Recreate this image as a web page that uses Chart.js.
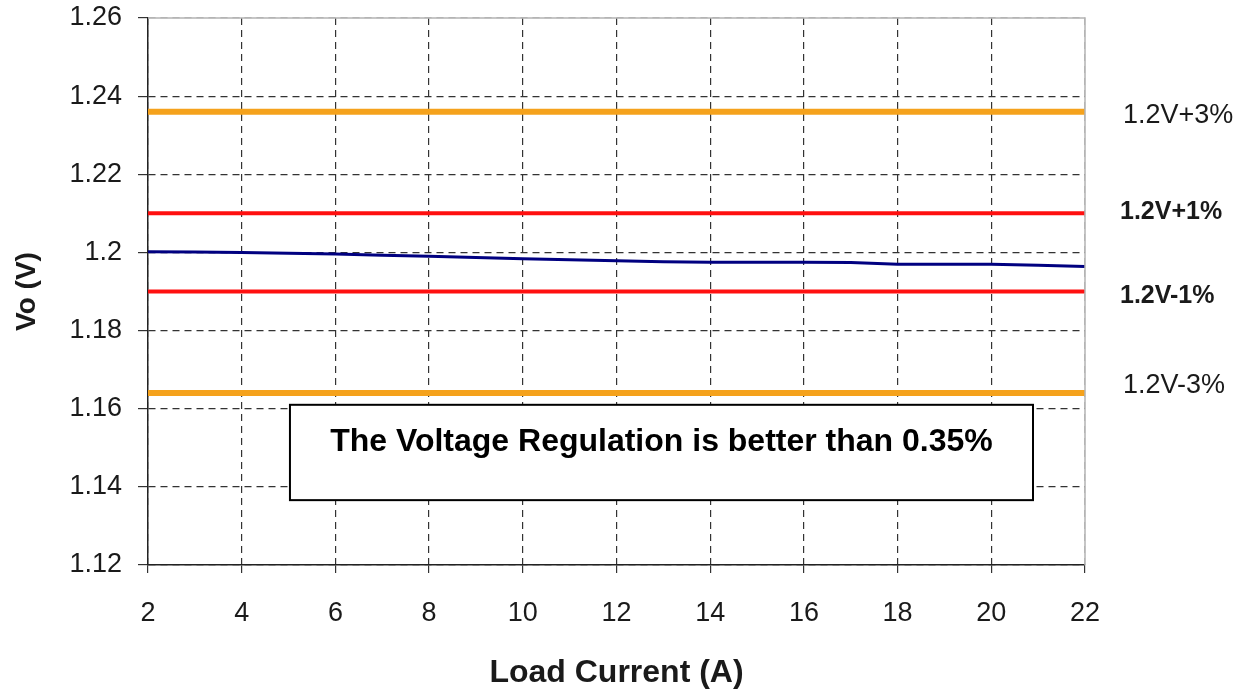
<!DOCTYPE html>
<html>
<head>
<meta charset="utf-8">
<script src="https://cdn.jsdelivr.net/npm/chart.js@4.4.0/dist/chart.umd.min.js"></script>
<style>
  body { margin: 0; background: #fff; }
  #wrap { width: 1258px; height: 692px; }
</style>
</head>
<body>
<div id="wrap"><canvas id="vo-chart"></canvas></div>
<script>
var loadCurrent = [2, 3, 4, 5, 6, 7, 8, 9, 10, 11, 12, 13, 14, 15, 16, 17, 18, 19, 20, 21, 22];
var vout = [1.2002, 1.2001, 1.2000, 1.1998, 1.1996, 1.1993, 1.1990, 1.1987, 1.1984, 1.1981, 1.1979,
            1.1976, 1.1975, 1.1975, 1.1975, 1.1974, 1.1970, 1.1970, 1.1970, 1.1967, 1.1964];

var limitLevels = [1.236, 1.21, 1.19, 1.164];
var limitNames = ['1.2V+3%', '1.2V+1%', '1.2V-1%', '1.2V-3%'];
var limitColors = ['#F5A21C', '#FF1010', '#FF1010', '#F5A21C'];

var xTicks = [2, 4, 6, 8, 10, 12, 14, 16, 18, 20, 22];
var yTicks = [1.12, 1.14, 1.16, 1.18, 1.20, 1.22, 1.24, 1.26];
var yTickLabels = ['1.12', '1.14', '1.16', '1.18', '1.2', '1.22', '1.24', '1.26'];

var noteText = 'The Voltage Regulation is better than 0.35%';

var FONT = "'Liberation Sans', Arial, sans-serif";

var datasets = [{
  data: loadCurrent.map(function(x, i) { return {x: x, y: vout[i]}; }),
  borderColor: '#000080',
  borderWidth: 3,
  pointRadius: 0,
  fill: false
}];
limitLevels.forEach(function(lvl, i) {
  datasets.push({
    data: [{x: loadCurrent[0], y: lvl}, {x: loadCurrent[loadCurrent.length - 1], y: lvl}],
    borderColor: limitColors[i],
    borderWidth: (i === 0 || i === 3) ? 6 : 4,
    pointRadius: 0,
    fill: false
  });
});

var extras = {
  id: 'extras',
  afterDraw: function(chart) {
    var ctx = chart.ctx, a = chart.chartArea, xs = chart.scales.x, ys = chart.scales.y;
    ctx.save();
    // light frame on top and right
    ctx.strokeStyle = '#b4b4b4';
    ctx.lineWidth = 1.5;
    ctx.beginPath();
    ctx.moveTo(a.left, a.top);
    ctx.lineTo(a.right, a.top);
    ctx.lineTo(a.right, a.bottom);
    ctx.stroke();

    // labels for the limit lines
    var shift = [4, -1, 5, -8];
    ctx.fillStyle = '#1a1a1a';
    ctx.textBaseline = 'middle';
    ctx.textAlign = 'left';
    limitLevels.forEach(function(lvl, i) {
      var bold = (i === 1 || i === 2);
      ctx.font = (bold ? 'bold 25px ' : '27px ') + FONT;
      ctx.fillText(limitNames[i], a.right + (bold ? 35 : 38), ys.getPixelForValue(lvl) + shift[i]);
    });

    // note box
    var x1 = xs.getPixelForValue(5.03), x2 = xs.getPixelForValue(20.89);
    var y1 = ys.getPixelForValue(1.161), y2 = ys.getPixelForValue(1.1366);
    ctx.fillStyle = '#fff';
    ctx.fillRect(x1, y1, x2 - x1, y2 - y1);
    ctx.strokeStyle = '#000';
    ctx.lineWidth = 2;
    ctx.strokeRect(x1, y1, x2 - x1, y2 - y1);
    ctx.fillStyle = '#000';
    ctx.font = 'bold 32px ' + FONT;
    ctx.textAlign = 'center';
    ctx.textBaseline = 'alphabetic';
    ctx.fillText(noteText, (x1 + x2) / 2, y1 + 46);
    ctx.restore();
  }
};

new Chart('vo-chart', {
  type: 'line',
  data: { datasets: datasets },
  plugins: [extras],
  options: {
    responsive: true,
    maintainAspectRatio: false,
    animation: false,
    layout: { padding: { left: 0, right: 173, top: 18, bottom: 0 } },
    plugins: { legend: { display: false }, tooltip: { enabled: false } },
    scales: {
      x: {
        type: 'linear',
        min: 2,
        max: 22,
        afterBuildTicks: function(s) { s.ticks = xTicks.map(function(v) { return {value: v}; }); },
        afterFit: function(s) { s.height = 127; s.paddingLeft = 0; s.paddingRight = 0; },
        grid: {
          color: function(c) { return c.tick && c.tick.value === 22 ? '#b4b4b4' : '#333'; },
          lineWidth: 1.2,
          tickLength: 8,
          tickColor: '#333'
        },
        border: { display: true, color: '#222', width: 1.5, dash: [7, 5] },
        ticks: {
          color: '#1a1a1a',
          padding: 24,
          maxRotation: 0,
          font: { family: FONT, size: 27 }
        },
        title: {
          display: true,
          text: 'Load Current (A)',
          color: '#1a1a1a',
          padding: { top: 0, bottom: 0 },
          font: { family: FONT, size: 32, weight: 'bold' }
        }
      },
      y: {
        min: 1.12,
        max: 1.26,
        afterBuildTicks: function(s) { s.ticks = yTicks.map(function(v) { return {value: v}; }); },
        afterFit: function(s) { s.width = 148; s.paddingTop = 0; s.paddingBottom = 0; },
        grid: {
          color: function(c) { return c.tick && Math.abs(c.tick.value - 1.26) < 1e-6 ? '#b4b4b4' : '#333'; },
          lineWidth: 1.2,
          tickLength: 10,
          tickColor: '#333'
        },
        border: { display: true, color: '#222', width: 1.5, dash: [7, 5] },
        ticks: {
          color: '#1a1a1a',
          padding: 16,
          font: { family: FONT, size: 27 },
          callback: function(v, i) { return yTickLabels[i]; }
        },
        title: {
          display: true,
          text: 'Vo (V)',
          color: '#1a1a1a',
          padding: { top: 10, bottom: 0 },
          font: { family: FONT, size: 28, weight: 'bold' }
        }
      }
    }
  }
});
</script>
</body>
</html>
